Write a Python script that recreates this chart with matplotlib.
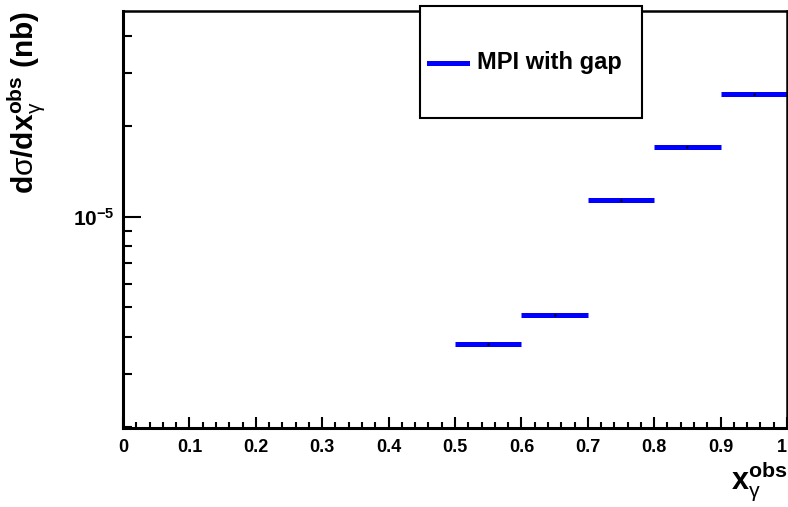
import numpy as np
import matplotlib
matplotlib.use('Agg')
import matplotlib.pyplot as plt
from matplotlib.patches import Rectangle
from matplotlib.lines import Line2D

plt.rcParams['font.family'] = ['Liberation Sans', 'DejaVu Sans']
plt.rcParams['mathtext.fontset'] = 'custom'
plt.rcParams['mathtext.rm'] = 'Liberation Sans:bold'
plt.rcParams['mathtext.it'] = 'Liberation Sans:bold'
plt.rcParams['mathtext.bf'] = 'Liberation Sans:bold'
plt.rcParams['mathtext.sf'] = 'Liberation Sans:normal'

# bin edges and cross section (nb)
bin_lo = [0.5, 0.6, 0.7, 0.8, 0.9]
bin_hi = [0.6, 0.7, 0.8, 0.9, 1.0]
xsec = [3.77e-6, 4.72e-6, 1.136e-5, 1.711e-5, 2.557e-5]
xtick_labels = ['0', '0.1', '0.2', '0.3', '0.4', '0.5', '0.6', '0.7', '0.8', '0.9', '1']
legend_label = 'MPI with gap'

fig = plt.figure(figsize=(7.88, 5.07), dpi=100)
ax = fig.add_axes([123/788, 1 - 427.7/507, 664/788, 417/507])

ax.hlines(xsec, bin_lo, bin_hi, colors='#0000ff', linewidth=3.6)
centers = [(a + b) / 2 for a, b in zip(bin_lo, bin_hi)]
ax.plot(centers, xsec, 'k.', markersize=1.5)

ax.set_yscale('log')
ax.set_xlim(0, 1)
ax.set_ylim(1.99e-6, 4.85e-5)

ax.set_xticks(np.arange(0, 1.01, 0.1))
ax.set_xticklabels(xtick_labels, fontweight='bold')
ax.set_xticks(np.arange(0, 1.001, 0.02), minor=True)
ax.set_yticks([1e-5])
ax.set_yticklabels([r'$10^{-5}$'])
ax.set_yticks([2e-6, 3e-6, 4e-6, 5e-6, 6e-6, 7e-6, 8e-6, 9e-6, 2e-5, 3e-5, 4e-5], minor=True)
ax.yaxis.set_minor_formatter(plt.NullFormatter())

ax.tick_params(axis='x', which='major', direction='in', length=8, width=1.5, labelsize=13, pad=8)
ax.tick_params(axis='x', which='minor', direction='in', length=4, width=1.5)
ax.tick_params(axis='y', which='major', direction='in', length=13, width=1.5, labelsize=15, pad=6)
ax.tick_params(axis='y', which='minor', direction='in', length=6.5, width=1.5)
for s in ax.spines.values():
    s.set_linewidth(1.8)
ax.spines['left'].set_linewidth(2.2)
ax.spines['bottom'].set_linewidth(2.2)
# last label sits on the figure edge, nudge it inside
ax.get_xticklabels()[-1].set_horizontalalignment('right')

ax.set_xlabel(r'x$_{\mathsf{γ}}^{\mathrm{obs}}$', fontsize=22, fontweight='bold', loc='right')
ax.xaxis.set_label_coords(1.0, -0.075)
ax.set_ylabel(r'd$\mathsf{σ}$/dx$_{\mathsf{γ}}^{\mathrm{obs}}$ (nb)', fontsize=21.5,
              fontweight='bold', loc='top')
ax.yaxis.set_label_coords(-0.113, 1.0)

# legend box drawn in figure pixels, like ROOT's TLegend
W, H = 788, 507
box = Rectangle((420/W, 1 - 118/H), 222/W, 112/H, transform=fig.transFigure,
                facecolor='white', edgecolor='black', linewidth=1.5, zorder=10)
fig.add_artist(box)
fig.add_artist(Line2D([429/W, 467/W], [1 - 62.5/H] * 2, transform=fig.transFigure,
                      color='#0000ff', linewidth=3.6, zorder=11))
fig.text(477/W, 1 - 62.5/H, legend_label, fontsize=17, fontweight='bold',
         va='center', ha='left', zorder=11)

fig.savefig('out.png', dpi=100)
